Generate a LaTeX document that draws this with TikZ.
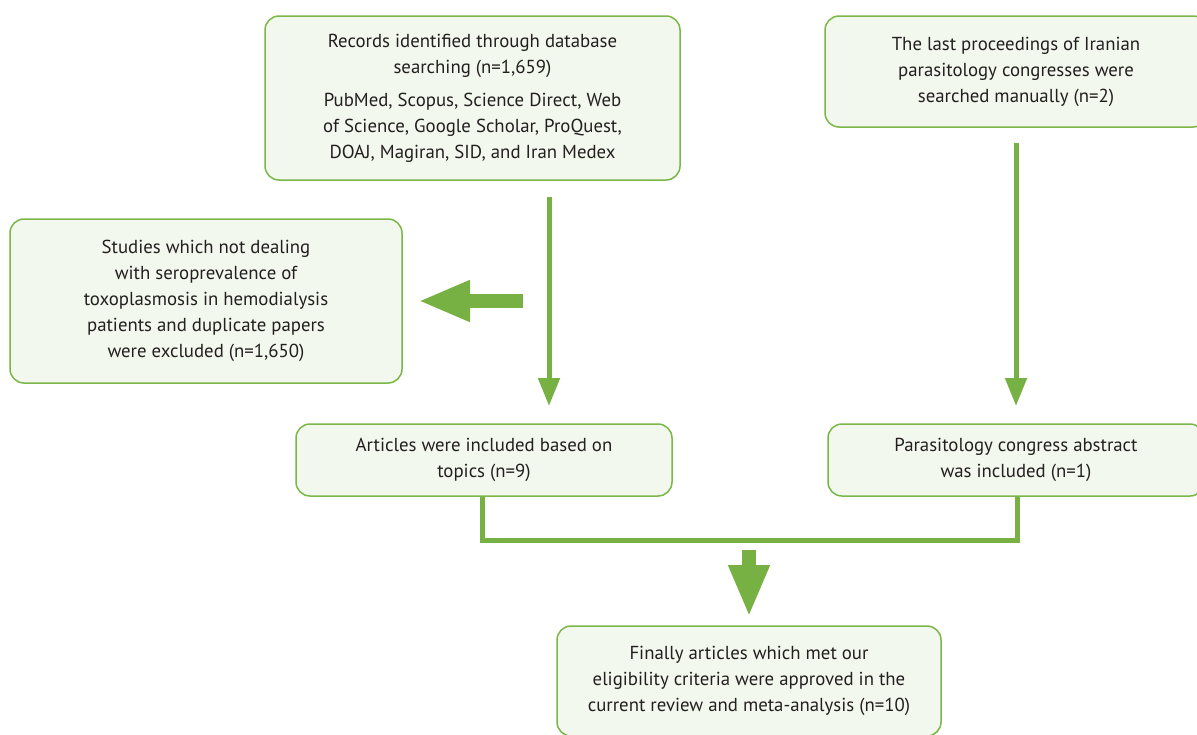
\documentclass[tikz,border=0pt]{standalone}
\usepackage{fontspec}
\setmainfont{PT Sans}
\usetikzlibrary{arrows.meta}
\definecolor{gline}{HTML}{7AB648}
\definecolor{garrow}{HTML}{77B043}
\definecolor{gfill}{HTML}{F3F8EE}
\definecolor{txt}{HTML}{231F20}
\begin{document}
\begin{tikzpicture}[x=1pt,y=-1pt,
  box/.style={draw=gline, fill=gfill, line width=1.5pt, rounded corners=14pt,
    align=center, text=txt, font=\fontsize{18.8}{26}\selectfont, inner sep=0pt},
  thin/.style={draw=garrow, line width=5pt, -{Triangle[width=21pt,length=28pt]}},
  thick/.style={draw=garrow, line width=14pt, -{Triangle[width=38pt,length=52pt]}},
  merge/.style={draw=garrow, line width=5pt, line join=miter}]
\clip (0,0) rectangle (1197,734);
\node[box, minimum width=415pt, minimum height=164pt] (A) at (472.5,98)
  {Records identified through database\\ searching (n=1,659)\\[7pt]
   PubMed, Scopus, Science Direct, Web\\ of Science, Google Scholar, ProQuest,\\ DOAJ, Magiran, SID, and Iran Medex};
\node[box, minimum width=382pt, minimum height=111pt] (B) at (1016,71.5)
  {The last proceedings of Iranian\\ parasitology congresses were\\ searched manually (n=2)};
\node[box, minimum width=392pt, minimum height=164pt] (C) at (206,301)
  {Studies which not dealing\\ with seroprevalence of\\ toxoplasmosis in hemodialysis\\ patients and duplicate papers\\ were excluded (n=1,650)};
\node[box, minimum width=376pt, minimum height=72pt] (D) at (484,460)
  {Articles were included based on\\ topics (n=9)};
\node[box, minimum width=376pt, minimum height=72pt] (E) at (1016,460)
  {Parasitology congress abstract\\ was included (n=1)};
\node[box, minimum width=384pt, minimum height=110pt] (F) at (749,681)
  {Finally articles which met our\\ eligibility criteria were approved in the\\ current review and meta-analysis (n=10)};
\coordinate (a1) at (549,197);
\coordinate (a2) at (549,406);
\coordinate (b1) at (1016,143);
\coordinate (b2) at (1016,406);
\coordinate (l1) at (523,301);
\coordinate (l2) at (418,301);
\coordinate (m1) at (749,550);
\coordinate (m2) at (749,617);
\draw[thin] (a1) -- (a2);
\draw[thin] (b1) -- (b2);
\draw[thick] (l1) -- (l2);
\draw[thick] (m1) -- (m2);
\draw[merge] (D.south -| 482,0) -- (482,540) -- (1017,540) -- (E.south -| 1017,0);
\end{tikzpicture}
\end{document}
